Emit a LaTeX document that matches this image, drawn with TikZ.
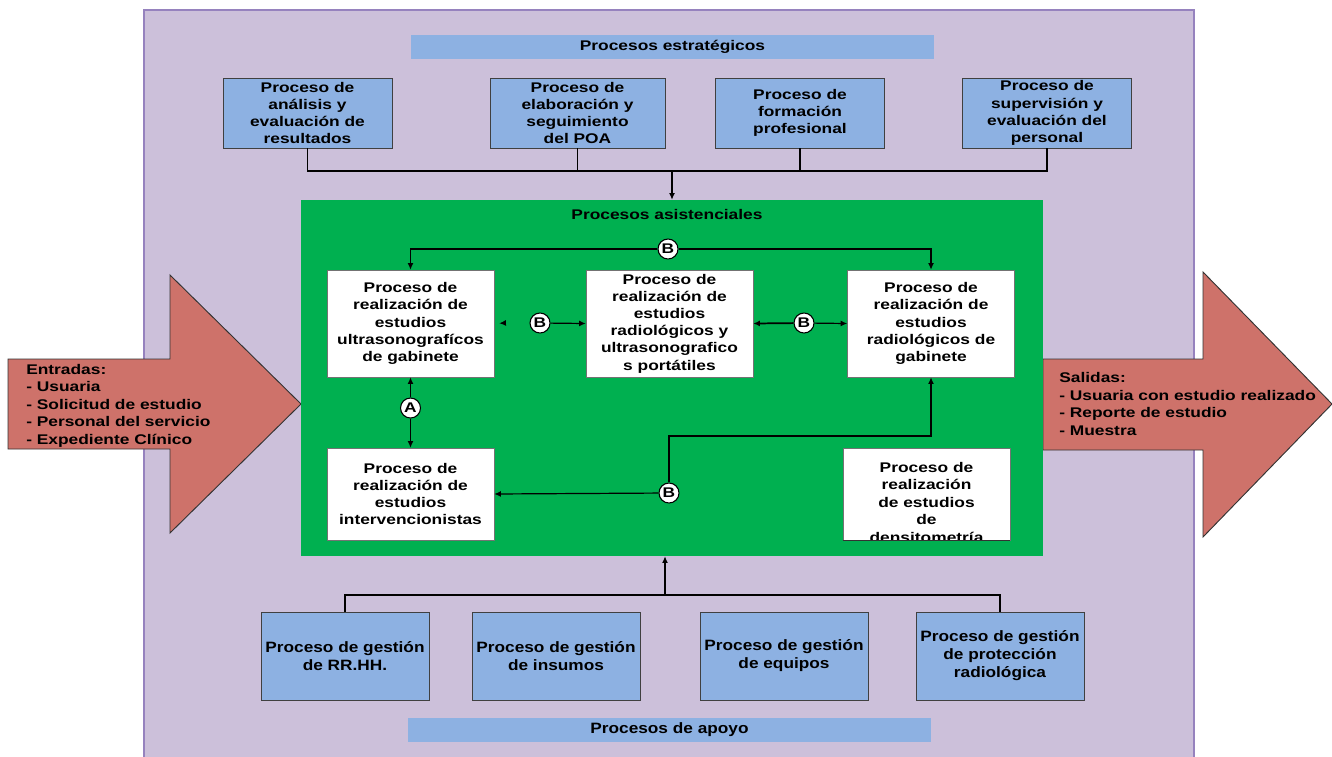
\documentclass[tikz,border=0pt]{standalone}
\usepackage{fontspec}
\setmainfont{Liberation Sans}
\newfontfamily\widesf[FakeStretch=1.24]{Liberation Sans}
\newfontfamily\narrowsf[FakeStretch=1.15]{Liberation Sans}
\usetikzlibrary{arrows.meta}

\definecolor{lilac}{RGB}{204,192,218}
\definecolor{lilacline}{RGB}{150,130,190}
\definecolor{procblue}{RGB}{141,177,226}
\definecolor{asistgreen}{RGB}{0,176,80}
\definecolor{iored}{RGB}{206,114,106}

\begin{document}
\begin{tikzpicture}[x=0.75pt, y=-0.75pt, >={Latex[length=5pt,width=4.5pt]},
    every node/.style={font=\widesf\bfseries\fontsize{10.5}{12.9}\selectfont},
    topbox/.style={draw=black!75, fill=procblue, minimum width=126.75pt, minimum height=52.5pt, align=center, inner sep=1pt},
    whitebox/.style={draw=black!55, fill=white, minimum width=125.25pt, minimum height=80.25pt, align=center, inner sep=1pt},
    lowbox/.style={draw=black!75, fill=procblue, minimum width=126pt, minimum height=66pt, align=center, inner sep=1pt,
        font=\narrowsf\bfseries\fontsize{11.25}{13.5}\selectfont},
    bar/.style={fill=procblue, minimum width=392.25pt, minimum height=18pt, inner sep=0pt},
    bcirc/.style={circle, draw, fill=white, minimum size=15pt, inner sep=0pt, line width=0.8pt},
    link/.style={line width=0.9pt}]
    \useasboundingbox (0,0) rectangle (1332,757);
    % frame
    \filldraw[fill=lilac, draw=lilacline, line width=0.8pt] (144,10) rectangle (1194,762);
    % entradas / salidas
    \filldraw[fill=iored, draw=black!80, line width=0.7pt] (8,359) -- (170,359) -- (170,275) -- (301,404)
        -- (170,533) -- (170,449) -- (8,449) -- cycle;
    \filldraw[fill=iored, draw=black!80, line width=0.7pt] (1043,359) -- (1203,359) -- (1203,272) -- (1332,404)
        -- (1203,537) -- (1203,450) -- (1043,450) -- cycle;
    \node[anchor=north west, align=left, inner sep=0pt, font=\widesf\bfseries\fontsize{10.5}{13.1}\selectfont] (entradas) at (26,364)
        {Entradas:\\- Usuaria\\- Solicitud de estudio\\- Personal del servicio\\- Expediente Clínico};
    \node[anchor=north west, align=left, inner sep=0pt, font=\widesf\bfseries\fontsize{10.5}{13.2}\selectfont] (salidas) at (1059,372)
        {Salidas:\\- Usuaria con estudio realizado\\- Reporte de estudio\\- Muestra};
    % procesos estrategicos
    \node[bar] (estrat) at (672.5,47) {Procesos estratégicos};
    \node[topbox] (analisis) at (307.5,113) {Proceso de\\análisis y\\evaluación de\\resultados};
    \node[topbox, minimum width=131.25pt] (poa) at (577.5,113) {Proceso de\\elaboración y\\seguimiento\\del POA};
    \node[topbox] (formacion) at (800,113) {Proceso de\\formación\\profesional};
    \node[topbox] (supervision) at (1047,113) {Proceso de\\supervisión y\\evaluación del\\personal};
    % procesos asistenciales
    \node[fill=asistgreen, minimum width=556.5pt, minimum height=267pt, inner sep=0pt] (asist) at (672,378) {};
    \node (asisttitle) at (667,214) {Procesos asistenciales};
    \coordinate (tjoin) at (672,171);
    \draw[link] (analisis.south) |- (tjoin) -| (supervision.south);
    \draw[link] (poa.south) -- (poa.south |- tjoin);
    \draw[link] (formacion.south) -- (formacion.south |- tjoin);
    \draw[link, ->] (tjoin) -- (asist.north -| tjoin);

    \node[whitebox] (ultra) at (410.5,323.5) {Proceso de\\realización de\\estudios\\ultrasonografícos\\de gabinete};
    \node[whitebox] (portat) at (669.5,323.5) {Proceso de\\realización de\\estudios\\radiológicos y\\ultrasonografico\\s portátiles};
    \node[whitebox] (radgab) at (931,323.5) {Proceso de\\realización de\\estudios\\radiológicos de\\gabinete};
    \node[whitebox, minimum height=69pt] (interv) at (410.5,494) {Proceso de\\realización de\\estudios\\intervencionistas};
    \node[whitebox, minimum height=69pt] (densi) at (926.5,494) {};
    \begin{scope}
        \clip (densi.south west) rectangle (densi.north east);
        \node[anchor=north, align=center, inner sep=0pt, font=\widesf\bfseries\fontsize{10.5}{13.1}\selectfont] (densitxt) at (926.5,462)
            {Proceso de\\realización\\de estudios\\de\\densitometría};
    \end{scope}
    \draw[black!80, line width=0.8pt] (densi.south west) -- (densi.south east);

    % enlaces
    \node[bcirc] (btop) at (668,249) {B};
    \draw[link, ->] (btop.west) -| (ultra.north);
    \draw[link, ->] (btop.east) -| (radgab.north);
    \node[bcirc] (bleft) at (540,323) {B};
    \coordinate (stub) at (505,323);
    \draw[link, ->, shorten >=3.75pt] (stub) -- (ultra.east);
    \draw[link, ->] (bleft) -- (portat.west);
    \node[bcirc] (bright) at (804,323) {B};
    \draw[link, line width=1.3pt, ->] (bright) -- (portat.east);
    \draw[link, ->] (bright) -- (radgab.west);
    \node[bcirc] (aconn) at (410.5,408) {A};
    \draw[link, ->] (aconn) -- (ultra.south);
    \draw[link, ->] (aconn) -- (interv.north);
    \node[bcirc] (blow) at (669,493) {B};
    \coordinate (bturn) at (931,436);
    \draw[link, ->] (blow) -- (interv.east);
    \draw[link, ->] (blow) |- (bturn) -- (radgab.south);

    % procesos de apoyo
    \node[lowbox] (rrhh) at (345,656) {Proceso de gestión\\de RR.HH.};
    \node[lowbox] (insumos) at (556,656) {Proceso de gestión\\de insumos};
    \node[lowbox] (equipos) at (784,656) {Proceso de gestión\\de equipos};
    \node[lowbox] (proteccion) at (1000,656) {Proceso de gestión\\de protección\\radiológica};
    \coordinate (bjoin) at (665,595);
    \draw[link] (rrhh.north) |- (bjoin) -| (proteccion.north);
    \draw[link, ->] (bjoin) -- (asist.south -| bjoin);
    \node[bar, font=\narrowsf\bfseries\fontsize{11.25}{13.5}\selectfont] (apoyo) at (669.5,730) {Procesos de apoyo};
\end{tikzpicture}
\end{document}
